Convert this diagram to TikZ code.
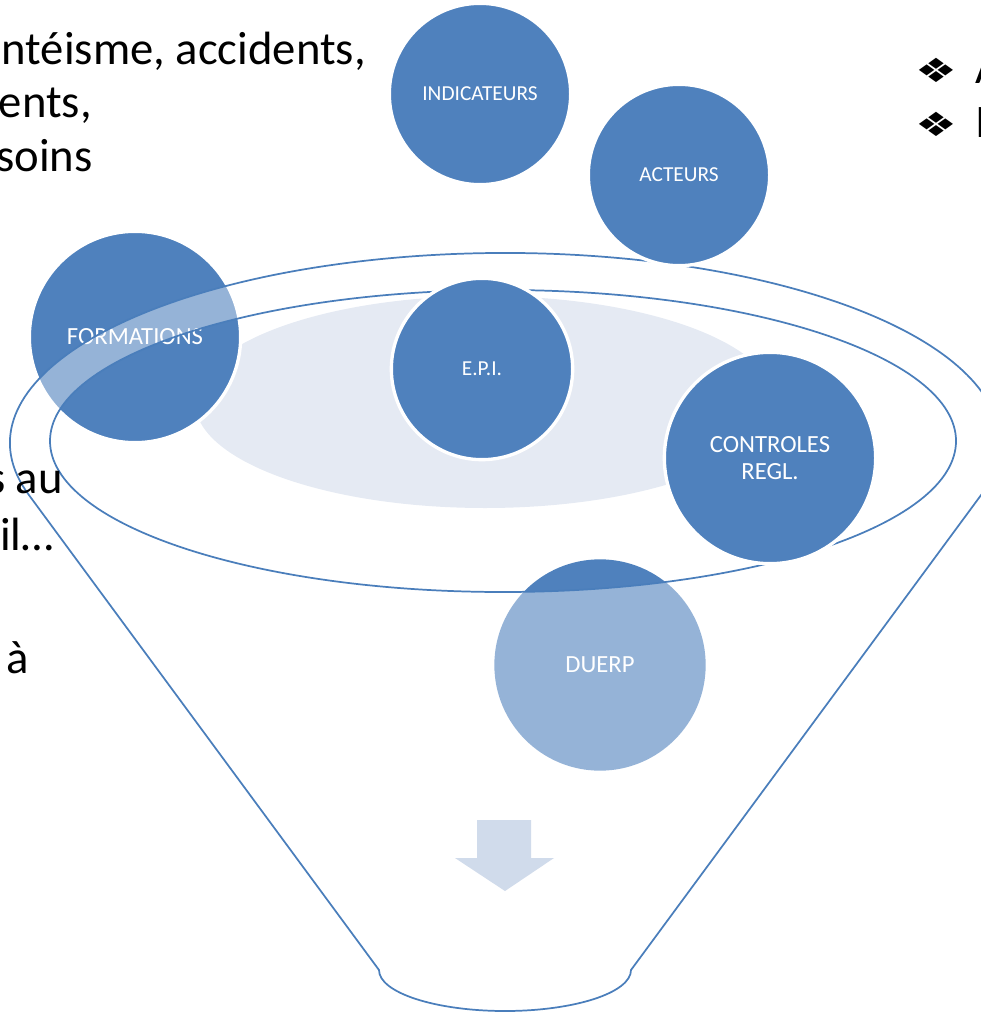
\documentclass[tikz,border=0pt]{standalone}
\usepackage{fontspec}
\setmainfont{Carlito}
\newfontfamily\symbolfont{DejaVu Sans}
\usetikzlibrary{calc}
\definecolor{bubbleblue}{HTML}{4F81BD}
\definecolor{funnelline}{HTML}{4A7EBB}
\definecolor{openingfill}{HTML}{E5EAF3}
\definecolor{arrowfill}{HTML}{D0DBEB}
\begin{document}
\begin{tikzpicture}[x=0.75pt,y=0.75pt,line join=round]
\tikzset{bubble/.style={circle,fill=bubbleblue,draw=white,line width=2.5pt,inner sep=0pt,text=white,align=center},
	small bubble/.style={bubble,minimum size=136pt,font=\fontsize{16}{17.5}\selectfont},
	big bubble/.style={bubble,minimum size=158.5pt,font=\fontsize{18.5}{20.5}\selectfont},
	funnel line/.style={draw=funnelline,line width=1.3pt},
	page text/.style={font=\fontsize{35}{42}\selectfont,inner sep=0pt,anchor=base east}
}
\useasboundingbox (0,0) rectangle (980,-1012);
\coordinate (rim) at (505,-443);
\coordinate (mouth) at (503,-441);
\coordinate (spout) at (505,-970);
\def\funnelpath{($(rim)+(195.8:495 and 190)$) arc[start angle=195.8,end angle=-15.8,x radius=495,y radius=190]
	-- ($(spout)+(126,0)$) arc[start angle=0,end angle=-180,x radius=126,y radius=41] -- cycle}
% opening of the funnel and the bubbles behind it
\fill[openingfill] (485,-402) ellipse [x radius=290,y radius=106];
\node[big bubble] (formations) at (135,-337) {FORMATIONS};
\node[big bubble,draw=none] (duerp) at (600,-665) {DUERP};
% funnel
\fill[white,fill opacity=0.4,even odd rule] \funnelpath (mouth) ellipse [x radius=453,y radius=151];
\draw[funnel line] \funnelpath;
\draw[funnel line] (mouth) ellipse [x radius=453,y radius=151];
\fill[arrowfill] (477,-820) -- (531,-820) -- (531,-858) -- (554,-858) -- (505,-891) -- (455,-858) -- (477,-858) -- cycle;
% bubbles in front
\node[small bubble] (epi) at (482,-369) {E.P.I.};
\node[big bubble] (controles) at (770,-458) {CONTROLES\\REGL.};
\node[small bubble] (indicateurs) at (480,-94) {INDICATEURS};
\node[small bubble] (acteurs) at (679,-175) {ACTEURS};
% text of the slide
\node[page text] (absences) at (366,-65) {ntéisme, accidents,};
\node[page text] (events) at (92,-118) {ents,};
\node[page text] (needs) at (93,-172) {soins};
\node[page text] (risks) at (63,-493) {s au};
\node[page text] (work) at (54,-550) {il…};
\node[page text] (tail) at (29,-673) {à};
\node[inner sep=0pt,font=\symbolfont\fontsize{25}{25}\selectfont] (bulletA) at (936,-70) {\scalebox{1.4}[1]{❖}};
\node[inner sep=0pt,font=\symbolfont\fontsize{25}{25}\selectfont] (bulletB) at (936,-124) {\scalebox{1.4}[1]{❖}};
\node[page text,anchor=base west] (itemA) at (975,-84) {A};
\node[page text,anchor=base west] (itemB) at (975,-138) {I};
\end{tikzpicture}
\end{document}
